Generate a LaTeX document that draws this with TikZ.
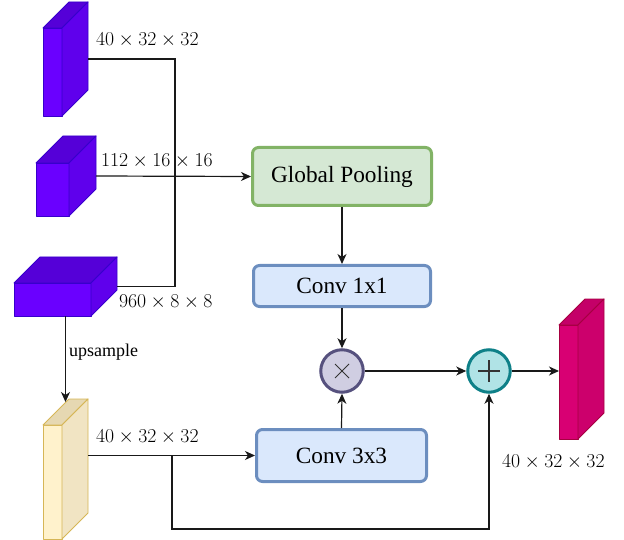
\RequirePackage{fix-cm}
\documentclass[tikz,border=0pt]{standalone}
\usepackage{fontspec}
\newfontfamily\boxfont{Liberation Serif}
\usetikzlibrary{arrows.meta,calc}

% face colours of the feature-map cubes
\definecolor{viofront}{HTML}{6A00FF}
\definecolor{vioside}{HTML}{5F00EC}
\definecolor{viotop}{HTML}{5500D8}
\definecolor{vioedge}{HTML}{3700CC}
\definecolor{yelfront}{HTML}{FFF2CC}
\definecolor{yelside}{HTML}{F1E4C3}
\definecolor{yeltop}{HTML}{E6D8B2}
\definecolor{yeledge}{HTML}{D6B656}
\definecolor{magfront}{HTML}{D80073}
\definecolor{magside}{HTML}{CC006C}
\definecolor{magtop}{HTML}{C40068}
\definecolor{magedge}{HTML}{A50040}
% block colours
\definecolor{gpfill}{HTML}{D5E8D4}
\definecolor{gpedge}{HTML}{82B366}
\definecolor{convfill}{HTML}{DAE8FC}
\definecolor{convedge}{HTML}{6C8EBF}
\definecolor{mulfill}{HTML}{D0CEE2}
\definecolor{muledge}{HTML}{56517E}
\definecolor{addfill}{HTML}{B0E3E6}
\definecolor{addedge}{HTML}{0E8088}

% #1 name, (#2,#3) top-left corner of the front face, #4 width, #5 height,
% #6 depth, #7 colour set; the node #1 covers the whole cube
\newcommand{\featcube}[7]{%
  \filldraw[cubeedge, fill=#7front, draw=#7edge] (#2,#3) rectangle ++(#4,#5);
  \filldraw[cubeedge, fill=#7top, draw=#7edge] (#2,#3) -- ++(#6,-#6) -- ++(#4,0) -- ++(-#6,#6) -- cycle;
  \filldraw[cubeedge, fill=#7side, draw=#7edge] (#2+#4,#3) -- ++(#6,-#6) -- ++(0,#5) -- ++(-#6,#6) -- cycle;
  \node[cubebox, minimum width={(#4+#6)*1pt}, minimum height={(#5+#6)*1pt}, anchor=north west] (#1) at (#2,#3-#6) {};
}

\begin{document}
\begin{tikzpicture}[x=1pt, y=-1pt,
  cubeedge/.style={line width=0.9pt, line join=round},
  cubebox/.style={draw=none, inner sep=0pt, outer sep=0pt},
  wire/.style={line width=1.2pt, draw=black!90},
  arr/.style={wire, -{Stealth[length=10pt, width=9pt, inset=3pt]}},
  block/.style={rounded corners=6pt, line width=3pt, font=\boxfont\fontsize{23.3}{28}\selectfont, inner sep=0pt},
  opnode/.style={circle, line width=3pt, minimum size=42.5pt, inner sep=0pt},
  dims/.style={anchor=base west, inner sep=0pt, font=\fontsize{19.7}{23}\selectfont},
]
\useasboundingbox (0,0) rectangle (624,540);

% feature maps
\featcube{encA}{43}{28}{19}{88}{26}{vio}
\featcube{encB}{36}{163}{33}{53}{27}{vio}
\featcube{encC}{14}{283}{77}{33}{26}{vio}
\featcube{up}{43}{425}{19}{114}{26}{yel}
\featcube{out}{559}{325}{19}{114}{26}{mag}

% processing blocks
\node[block, fill=gpfill, draw=gpedge, minimum width=179pt, minimum height=58pt] (gp) at (342,176.5) {Global Pooling};
\node[block, fill=convfill, draw=convedge, minimum width=177pt, minimum height=41pt] (c1) at (342,286) {Conv 1x1};
\node[block, fill=convfill, draw=convedge, minimum width=170pt, minimum height=52pt] (c3) at (341.5,455.5) {Conv 3x3};
\node[opnode, fill=mulfill, draw=muledge] (mul) at (342,371) {};
\node[opnode, fill=addfill, draw=addedge] (add) at (489,371) {};
\draw[line width=1pt, black!80] ($(mul.center)+(-7,-7)$) -- ($(mul.center)+(7,7)$)
                                ($(mul.center)+(-7,7)$) -- ($(mul.center)+(7,-7)$);
\draw[line width=1.3pt, black!80] ($(add.center)+(-11,0)$) -- ($(add.center)+(11,0)$)
                                  ($(add.center)+(0,-11)$) -- ($(add.center)+(0,11)$);

% dimension labels
\node[dims] (lA) at (96,46) {$40\times32\times32$};
\node[dims] (lB) at (101,167) {$112\times16\times16$};
\node[dims] (lC) at (119,307) {$960\times8\times8$};
\node[dims] (lU) at (96,442) {$40\times32\times32$};
\node[dims] (lO) at (502,467) {$40\times32\times32$};
\node[anchor=base west, inner sep=0pt, font=\boxfont\fontsize{18}{22}\selectfont] (lup) at (69,356) {upsample};

% connectors
\coordinate (trunk) at (175,286.5);
\draw[wire] (encA.east) -| (trunk) -- (encC.east);
\draw[arr] (encB.east) -- (gp.west);
\draw[arr] (gp.south) -- (c1.north);
\draw[arr] (c1.south) -- (mul.north);
\draw[arr] (c3.north) -- (mul.south);
\draw[arr] (mul.east) -- (add.west);
\draw[arr] (add.east) -- (add.east -| out.west);
\draw[arr] (encC.south) -- ($(up.north)+(0,3)$);
\coordinate (upout) at (88,455.5);
\coordinate (split) at (172,455.5);
\coordinate (loop) at (172,529);
\draw[arr] (upout) -- (c3.west);
\draw[arr] (split) -- (loop) -| (add.south);
\end{tikzpicture}
\end{document}
